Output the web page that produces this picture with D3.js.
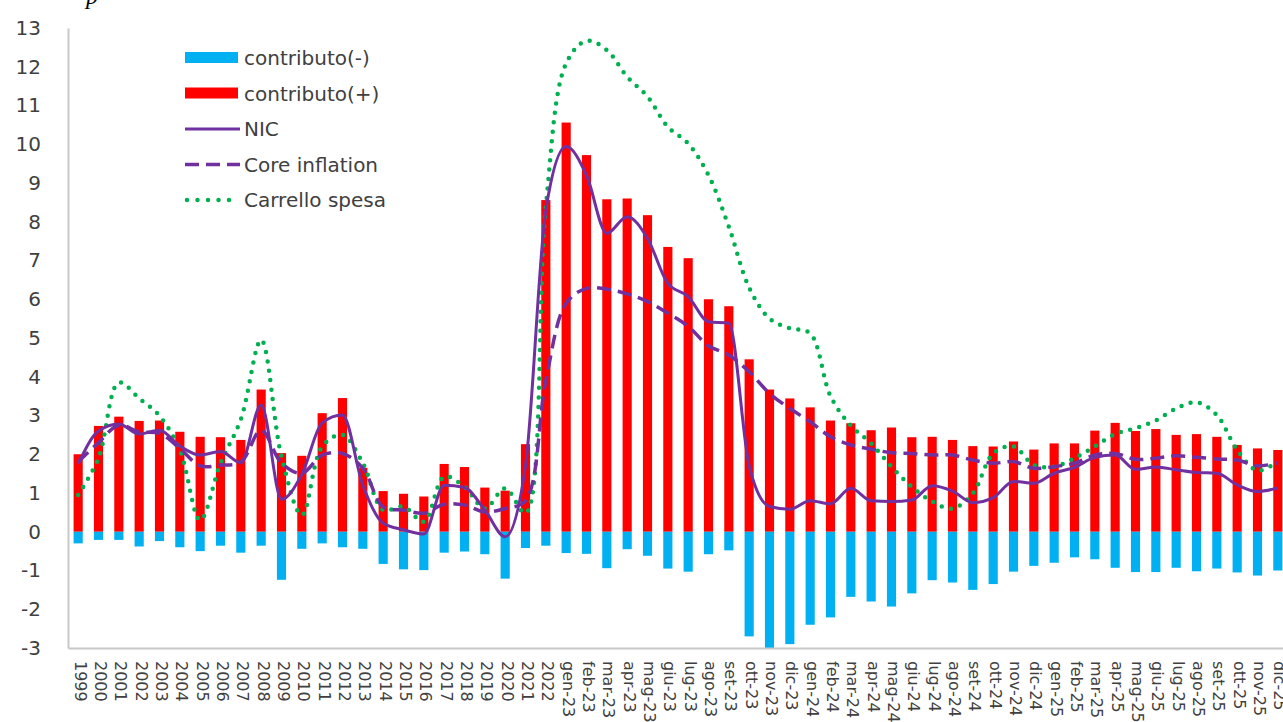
<!DOCTYPE html>
<html>
<head>
<meta charset="utf-8">
<script src="https://cdn.jsdelivr.net/npm/d3@7"></script>
<style>
body{margin:0;background:#fff;}
text{font-family:"DejaVu Sans",sans-serif;fill:#404040;}
</style>
</head>
<body>
<svg id="chart"></svg>
<script>
//categories (years, then months)
var categorie=["1999","2000","2001","2002","2003","2004","2005","2006","2007","2008","2009","2010",
    "2011","2012","2013","2014","2015","2016","2017","2018","2019","2020","2021","2022",
    "gen-23","feb-23","mar-23","apr-23","mag-23","giu-23","lug-23","ago-23","set-23","ott-23","nov-23","dic-23",
    "gen-24","feb-24","mar-24","apr-24","mag-24","giu-24","lug-24","ago-24","set-24","ott-24","nov-24","dic-24",
    "gen-25","feb-25","mar-25","apr-25","mag-25","giu-25","lug-25","ago-25","set-25","ott-25","nov-25","dic-25"]

//bars
var contributoNeg=[-0.3,-0.21,-0.21,-0.38,-0.24,-0.4,-0.5,-0.36,-0.54,-0.36,-1.24,-0.44,
    -0.3,-0.4,-0.44,-0.83,-0.97,-0.99,-0.54,-0.51,-0.58,-1.21,-0.42,-0.36,
    -0.55,-0.57,-0.94,-0.45,-0.62,-0.95,-1.03,-0.58,-0.48,-2.7,-3.0,-2.9,
    -2.4,-2.21,-1.68,-1.8,-1.93,-1.59,-1.25,-1.31,-1.5,-1.35,-1.03,-0.88,
    -0.8,-0.66,-0.71,-0.93,-1.04,-1.04,-0.93,-1.02,-0.95,-1.05,-1.13,-1.0]
var contributoPos=[2.0,2.73,2.97,2.86,2.87,2.58,2.45,2.44,2.37,3.67,2.03,1.96,
    3.06,3.45,1.65,1.05,0.98,0.91,1.75,1.67,1.14,1.06,2.26,8.56,
    10.56,9.72,8.58,8.6,8.17,7.35,7.06,6.0,5.82,4.45,3.67,3.44,
    3.21,2.87,2.8,2.62,2.69,2.44,2.45,2.37,2.21,2.2,2.33,2.12,
    2.28,2.28,2.61,2.81,2.6,2.65,2.5,2.52,2.45,2.24,2.15,2.11]

//lines
var nic=[1.75,2.6,2.78,2.52,2.62,2.21,1.98,2.07,1.78,3.27,0.84,1.48,
    2.81,3.01,1.2,0.22,0.05,-0.06,1.2,1.14,0.56,-0.13,1.7,8.3,
    9.94,9.2,7.7,8.13,7.57,6.41,6.07,5.42,5.38,1.7,0.65,0.58,
    0.8,0.72,1.12,0.8,0.78,0.82,1.19,1.05,0.75,0.88,1.3,1.25,
    1.51,1.66,1.92,1.98,1.61,1.67,1.6,1.53,1.51,1.21,1.04,1.13]
var coreInflation=[1.8,2.3,2.75,2.58,2.54,2.15,1.7,1.72,1.8,2.62,1.77,1.51,
    1.98,2.02,1.64,0.64,0.56,0.48,0.71,0.69,0.51,0.6,0.8,3.9,
    5.9,6.28,6.26,6.14,5.94,5.64,5.3,4.8,4.56,4.13,3.57,3.18,
    2.84,2.45,2.24,2.13,2.04,2.02,1.98,1.98,1.85,1.77,1.81,1.64,
    1.68,1.77,1.98,2.02,1.87,1.9,1.96,1.92,1.88,1.85,1.7,1.78]
var carrelloSpesa=[0.95,1.9,3.85,3.44,2.99,2.11,0.3,1.77,2.9,4.95,1.94,0.43,
    2.2,2.5,1.77,0.56,0.65,0.26,1.42,1.16,0.6,1.12,0.48,8.4,
    12.09,12.67,12.43,11.74,11.23,10.45,10.02,9.2,7.87,6.3,5.5,5.25,
    5.12,3.5,2.74,2.28,1.68,1.16,0.78,0.6,0.99,2.02,2.2,1.72,
    1.68,1.9,2.2,2.52,2.67,2.87,3.18,3.34,3.01,2.11,1.58,1.81]

var yTicks=[-3,-2,-1,0,1,2,3,4,5,6,7,8,9,10,11,12,13]
var legendLabels=["contributo(-)","contributo(+)","NIC","Core inflation","Carrello spesa"]

var colors={neg:"#00b0f0",pos:"#ff0000",nic:"#7030a0",core:"#7030a0",carrello:"#00b050",axis:"#c8c8c8"}


//draw bars
var drawBars=function(target,xScale,yScale){
    var bw=xScale.bandwidth()
    target.append("g")
        .selectAll("rect")
        .data(categorie)
        .enter()
        .append("rect")
        .attr("x",function(c){return xScale(c)})
        .attr("width",bw)
        .attr("y",function(c,i){return yScale(contributoPos[i])})
        .attr("height",function(c,i){return yScale(0)-yScale(contributoPos[i])})
        .attr("fill",colors.pos)
    target.append("g")
        .selectAll("rect")
        .data(categorie)
        .enter()
        .append("rect")
        .attr("x",function(c){return xScale(c)})
        .attr("width",bw)
        .attr("y",yScale(0))
        .attr("height",function(c,i){return yScale(contributoNeg[i])-yScale(0)})
        .attr("fill",colors.neg)
}

//draw lines
var drawLines=function(target,xScale,yScale){
    var bw=xScale.bandwidth()
    var lineGen=function(curve){
        return d3.line()
            .x(function(v,i){return xScale(categorie[i])+bw/2})
            .y(function(v){return yScale(v)})
            .curve(curve)
    }
    var lines=target.append("g").attr("fill","none")

    lines.append("path")
        .datum(carrelloSpesa)
        .attr("d",lineGen(d3.curveCatmullRom.alpha(0.5)))
        .attr("stroke",colors.carrello)
        .attr("stroke-width",4.5)
        .attr("stroke-linecap","round")
        .attr("stroke-dasharray","0,9.5")

    lines.append("path")
        .datum(coreInflation)
        .attr("d",lineGen(d3.curveCatmullRom.alpha(0.5)))
        .attr("stroke",colors.core)
        .attr("stroke-width",3.5)
        .attr("stroke-dasharray","14,7")

    lines.append("path")
        .datum(nic)
        .attr("d",lineGen(d3.curveMonotoneX))
        .attr("stroke",colors.nic)
        .attr("stroke-width",3)
        .attr("stroke-linejoin","round")
}

//create axes
var createAxes=function(svg,xScale,yScale,plot){
    var yAxis=d3.axisLeft(yScale)
        .tickValues(yTicks)
        .tickSize(0)
        .tickPadding(27)
        .tickFormat(function(d){return String(d)})
    var xAxis=d3.axisBottom(xScale).tickSize(0)

    var ya=svg.append("g")
        .attr("transform","translate("+plot.left+",0)")
        .call(yAxis)
    ya.selectAll("text").style("font-size","20px")

    var xa=svg.append("g")
        .attr("transform","translate(0,"+plot.bottom+")")
        .call(xAxis)
    xa.selectAll("text")
        .style("font-size","16px")
        .style("text-anchor","start")
        .attr("transform","rotate(90)")
        .attr("x",13)
        .attr("y",-2)
        .attr("dy","0.35em")

    svg.selectAll(".domain")
        .attr("stroke",colors.axis)
        .attr("stroke-width",2)
}

//create legend
var createLegend=function(svg){
    var legend=svg.append("g").attr("transform","translate(185,58)")
    var rows=legend.selectAll("g")
        .data(legendLabels)
        .enter()
        .append("g")
        .attr("transform",function(d,i){return "translate(0,"+(i*35.5)+")"})
    rows.append("text")
        .text(function(d){return d})
        .attr("x",59)
        .attr("dy","0.35em")
        .style("font-size","20px")

    rows.filter(function(d,i){return i<2})
        .append("rect")
        .attr("x",0)
        .attr("y",-6)
        .attr("width",53)
        .attr("height",11)
        .attr("fill",function(d,i){return i==0?colors.neg:colors.pos})

    var sw=rows.filter(function(d,i){return i>=2})
        .append("line")
        .attr("x1",function(d,i){return i==2?2:0})
        .attr("x2",function(d,i){return i==2?53:55})
        .attr("y1",0).attr("y2",0)
    sw.each(function(d,i){
        var l=d3.select(this)
        if(i==0){l.attr("stroke",colors.nic).attr("stroke-width",3)}
        if(i==1){l.attr("stroke",colors.core).attr("stroke-width",3.5).attr("stroke-dasharray","14,7")}
        if(i==2){l.attr("stroke",colors.carrello).attr("stroke-width",4.5).attr("stroke-linecap","round").attr("stroke-dasharray","0,10.5")}
    })
}


//setting up major stuff
var initGraph=function(){
    var size={width:1283,height:722}
    var plot={left:68,right:1288,top:28,bottom:648}

    var svg=d3.select("#chart")
        .attr("width",size.width)
        .attr("height",size.height)

    var xScale=d3.scaleBand()
        .domain(categorie)
        .range([plot.left,plot.right])
        .paddingInner(0.55)
        .paddingOuter(0.275)
    var yScale=d3.scaleLinear()
        .domain([-3,13])
        .range([plot.bottom,plot.top])

    //cut off title fragment at top
    svg.append("text")
        .text("p")
        .attr("x",86)
        .attr("y",4)
        .style("font-family","'Liberation Serif',serif")
        .style("font-style","italic")
        .style("font-size","24px")
        .style("fill","#000")

    var target=svg.append("g").classed("graph",true)
    drawBars(target,xScale,yScale)
    createAxes(svg,xScale,yScale,plot)
    drawLines(target,xScale,yScale)
    createLegend(svg)
}

initGraph()
</script>
</body>
</html>
